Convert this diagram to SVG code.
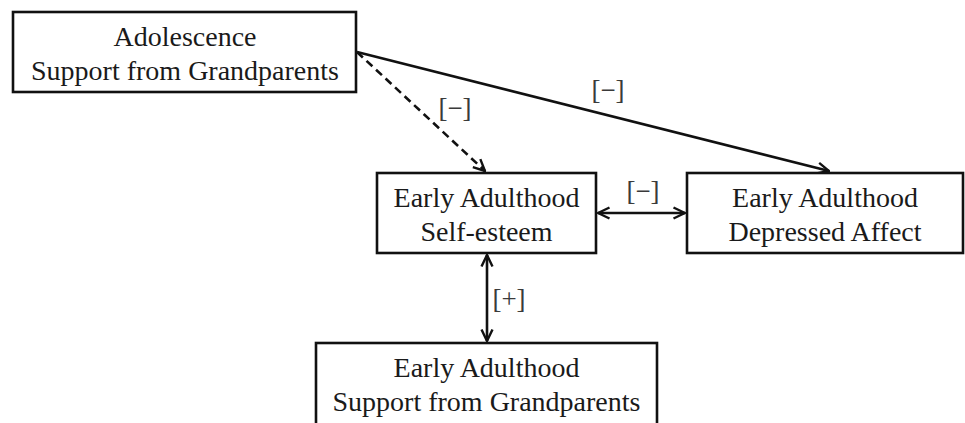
<svg xmlns="http://www.w3.org/2000/svg" width="965" height="423" viewBox="0 0 965 423">
  <style>
    .box { fill: #fff; stroke: #111; stroke-width: 2.6; }
    .t { font-family: "Liberation Serif", "Times New Roman", serif; font-size: 28px; fill: #1a1a1a; text-anchor: middle; }
    .lbl { font-family: "Liberation Serif", "Times New Roman", serif; font-size: 27px; fill: #3a3a3a; text-anchor: middle; }
    .edge { stroke: #111; stroke-width: 2.6; fill: none; }
    .dash { stroke-dasharray: 8 5; }
  </style>
  <defs>
    <marker id="arr" viewBox="0 0 14 14" refX="13" refY="7" markerWidth="14" markerHeight="14" markerUnits="userSpaceOnUse" orient="auto-start-reverse">
      <path d="M1.5,1.5 L13,7 L1.5,12.5" fill="none" stroke="#111" stroke-width="2.4"/>
    </marker>
  </defs>
  <rect width="965" height="423" fill="#fff"/>

  <g id="connectors">
    <line class="edge dash" x1="357" y1="52" x2="485" y2="171" marker-end="url(#arr)"/>
    <line class="edge" x1="357" y1="52" x2="829" y2="171" marker-end="url(#arr)"/>
    <line class="edge" x1="598" y1="213" x2="685" y2="213" marker-start="url(#arr)" marker-end="url(#arr)"/>
    <line class="edge" x1="487" y1="255" x2="487" y2="341" marker-start="url(#arr)" marker-end="url(#arr)"/>
    <text class="lbl" x="455" y="117">[−]</text>
    <text class="lbl" x="608" y="99">[−]</text>
    <text class="lbl" x="643" y="200">[−]</text>
    <text class="lbl" x="509" y="308">[+]</text>
  </g>

  <g id="adolescence-support">
    <rect class="box" x="13" y="12" width="343" height="80"/>
    <text class="t" x="185" y="46">Adolescence</text>
    <text class="t" x="185" y="80">Support from Grandparents</text>
  </g>

  <g id="self-esteem">
    <rect class="box" x="377" y="173" width="219" height="80"/>
    <text class="t" x="486.5" y="207">Early Adulthood</text>
    <text class="t" x="486.5" y="241">Self-esteem</text>
  </g>

  <g id="depressed-affect">
    <rect class="box" x="687" y="173" width="276" height="80"/>
    <text class="t" x="825" y="207">Early Adulthood</text>
    <text class="t" x="825" y="241">Depressed Affect</text>
  </g>

  <g id="adulthood-support">
    <rect class="box" x="316" y="343" width="341" height="84"/>
    <text class="t" x="486.5" y="377">Early Adulthood</text>
    <text class="t" x="486.5" y="411">Support from Grandparents</text>
  </g>
</svg>
